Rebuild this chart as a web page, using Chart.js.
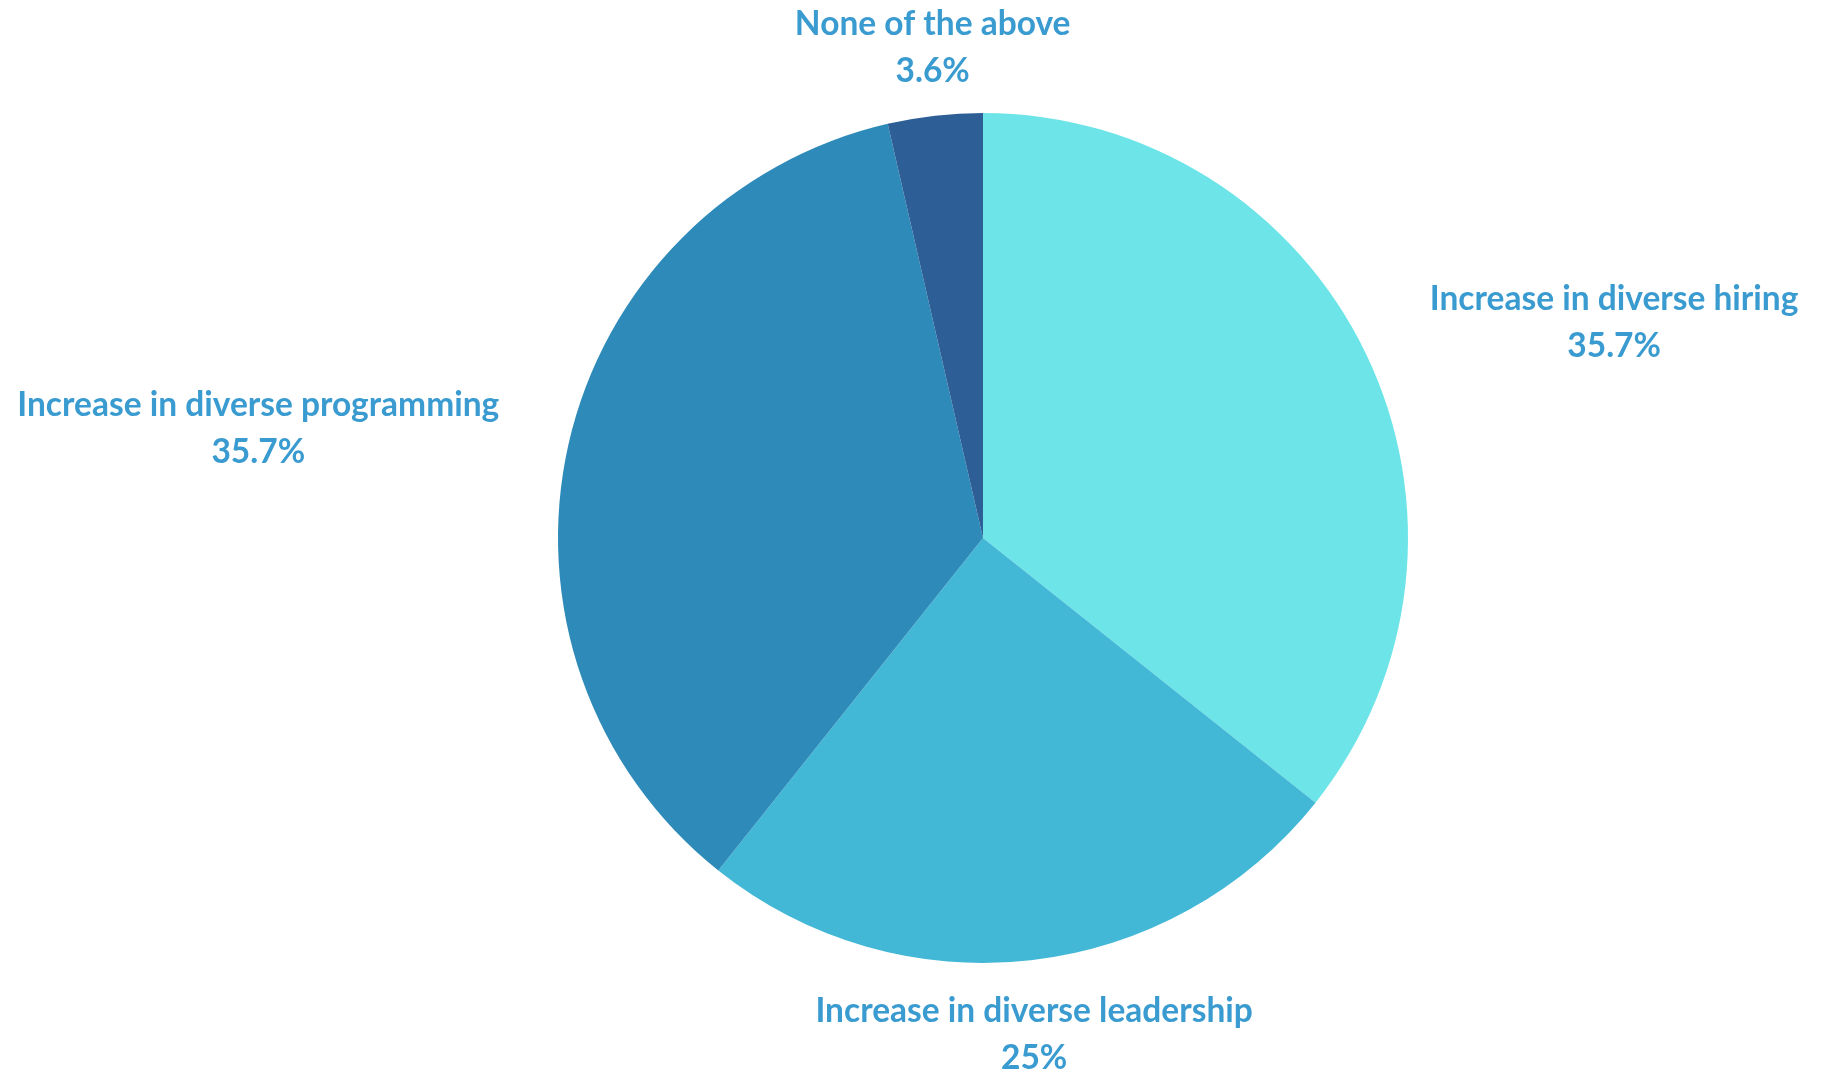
<!DOCTYPE html>
<html>
<head>
<meta charset="utf-8">
<script src="https://cdn.jsdelivr.net/npm/chart.js@4.4.0/dist/chart.umd.min.js"></script>
<style>
  html, body { margin: 0; padding: 0; background: #fff; }
  #wrap { width: 1832px; height: 1071px; }
</style>
</head>
<body>
<div id="wrap"><canvas id="PieChart" width="1832" height="1071"></canvas></div>
<script>
const labels = ["Increase in diverse hiring", "Increase in diverse leadership", "Increase in diverse programming", "None of the above"];
const shares = [35.7, 25, 35.7, 3.6];
const colors = ["#6ce4e8", "#42b7d6", "#2e8bb9", "#2e5e96"];

// draws "name / value%" next to each slice
const outsideLabels = {
  id: "outsideLabels",
  afterDatasetsDraw(chart) {
    const ctx = chart.ctx;
    const meta = chart.getDatasetMeta(0);
    const lineH = 47;
    ctx.save();
    ctx.font = "700 33.5px Lato";
    ctx.fillStyle = "#3a9bd0";
    ctx.textBaseline = "middle";
    ctx.textAlign = "center";
    meta.data.forEach((arc, i) => {
      const lines = [labels[i], shares[i] + "%"];
      const w = Math.max(...lines.map(t => ctx.measureText(t).width));
      const h = lines.length * lineH;
      const a = (arc.startAngle + arc.endAngle) / 2;
      const c = Math.cos(a), s = Math.sin(a);
      let cx, top;
      if (Math.abs(c) > 0.7) {
        const r = arc.outerRadius + 71;
        const ax = arc.x + c * r, ay = arc.y + s * r;
        cx = c > 0 ? ax + w / 2 : ax - w / 2;
        top = ay - h / 2;
      } else {
        const r = arc.outerRadius + (s > 0 ? 28 : 21);
        const ax = arc.x + c * r, ay = arc.y + s * r;
        cx = ax;
        top = s > 0 ? ay : ay - h;
      }
      lines.forEach((t, j) => ctx.fillText(t, cx, top + lineH / 2 + j * lineH));
    });
    ctx.restore();
  }
};

document.addEventListener("DOMContentLoaded", () => {
  const ctx = document.getElementById("PieChart").getContext("2d");
  new Chart(ctx, {
    type: "pie",
    data: {
      labels: labels,
      datasets: [
        {
          data: shares,
          backgroundColor: colors,
          borderWidth: 0,
        },
      ],
    },
    options: {
      responsive: false,
      animation: false,
      layout: {
        padding: { left: 558, right: 424, top: 113, bottom: 108 },
      },
      plugins: {
        legend: { display: false },
        tooltip: { enabled: false },
      },
    },
    plugins: [outsideLabels],
  });
});
</script>
</body>
</html>
